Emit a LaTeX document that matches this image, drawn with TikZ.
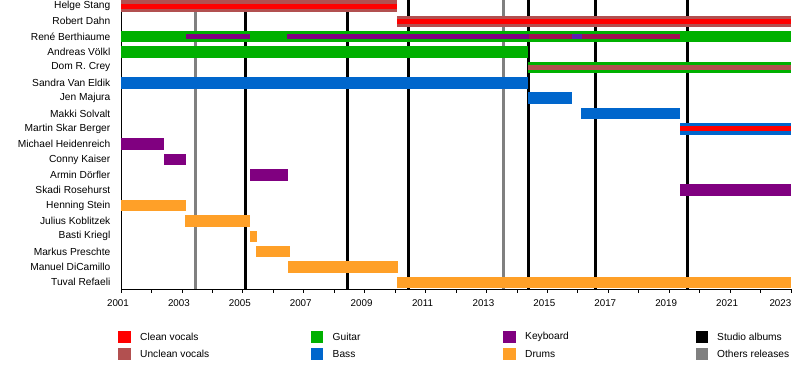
\documentclass[tikz,border=0pt]{standalone}
\usepackage{fontspec}
\setmainfont{Liberation Sans}
\definecolor{clean}{RGB}{255,0,0}
\definecolor{unclean}{RGB}{178,80,80}
\definecolor{guitar}{RGB}{0,176,0}
\definecolor{bass}{RGB}{0,102,204}
\definecolor{keyboard}{RGB}{128,0,128}
\definecolor{drums}{RGB}{255,160,40}
\definecolor{studio}{RGB}{0,0,0}
\definecolor{others}{RGB}{128,128,128}
\definecolor{mixkv}{RGB}{160,16,80}
\definecolor{mixbv}{RGB}{96,32,176}
\newcommand\tlbar[4]{\fill[#1] (#2,{6+15.35*#4-5.75}) rectangle (#3,{6+15.35*#4+5.75});}
\newcommand\tlstripe[4]{\fill[#1] (#2,{6+15.35*#4-2.5}) rectangle (#3,{6+15.35*#4+2.5});}
\tikzset{
  namelab/.style={anchor=east,inner sep=0pt,font=\fontsize{10.2}{12}\selectfont},
  yearlab/.style={anchor=center,inner sep=0pt,font=\fontsize{9.8}{12}\selectfont},
  leglab/.style={anchor=west,inner sep=0pt,font=\fontsize{10.2}{12}\selectfont},
  studioline/.style={draw=studio,line width=2.8pt},
  otherline/.style={draw=others,line width=2.8pt},
  axisline/.style={draw=black,line width=0.8pt},
}
\begin{document}
\begin{tikzpicture}[x=1pt,y=-1pt]
\useasboundingbox (0,0) rectangle (800,388);
% release lines
\foreach \xx in {195.7,503.3} \draw[otherline] (\xx,0) -- (\xx,289);
\foreach \xx in {245.7,347.7,408.3,528.3,595.7,687.3} \draw[studioline] (\xx,0) -- (\xx,289);
% axes
\draw[axisline] (121,0) -- (121,289) -- (791,289);
\foreach \k in {0,...,22} \draw[axisline] ({121+\k*30.4545},289) -- ({121+\k*30.4545},293);
\foreach \k in {0,2,...,20} {
  \pgfmathtruncatemacro\yy{2001+\k}
  \node[yearlab] (yr\k) at ({118+\k*30.4545},303) {\yy};
}
\node[yearlab,anchor=east] (yr22) at (791.5,303) {2023};
% names
\foreach \nm [count=\i from 0] in {Helge Stang,Robert Dahn,René Berthiaume,Andreas Völkl,Dom R. Crey,Sandra Van Eldik,Jen Majura,Makki Solvalt,Martin Skar Berger,Michael Heidenreich,Conny Kaiser,Armin Dörfler,Skadi Rosehurst,Henning Stein,Julius Koblitzek,Basti Kriegl,Markus Preschte,Manuel DiCamillo,Tuval Refaeli}
  \node[namelab] (name\i) at (110.5,{6+15.35*\i}) {\nm};
% bars
\tlbar{unclean}{121}{397}{0}
\tlstripe{clean}{121}{397}{0}
\tlbar{unclean}{397}{791}{1}
\tlstripe{clean}{397}{791}{1}
\tlbar{guitar}{121}{791}{2}
\tlstripe{keyboard}{186}{250}{2}
\tlstripe{keyboard}{287}{528.5}{2}
\tlstripe{mixkv}{528.5}{680}{2}
\tlstripe{mixbv}{572}{582}{2}
\tlbar{guitar}{121}{528}{3}
\tlbar{guitar}{528}{791}{4}
\tlstripe{unclean}{528}{791}{4}
\tlbar{bass}{121}{528}{5}
\tlbar{bass}{528}{572}{6}
\tlbar{bass}{581}{680}{7}
\tlbar{bass}{680}{791}{8}
\tlstripe{clean}{680}{791}{8}
\tlbar{keyboard}{121}{164}{9}
\tlbar{keyboard}{163.5}{186}{10}
\tlbar{keyboard}{249.5}{288}{11}
\tlbar{keyboard}{680}{791}{12}
\tlbar{drums}{121}{186}{13}
\tlbar{drums}{185}{250}{14}
\tlbar{drums}{249.5}{257}{15}
\tlbar{drums}{256}{290}{16}
\tlbar{drums}{287.5}{398}{17}
\tlbar{drums}{397}{791}{18}
% legend
\fill[clean] (118,330.5) rectangle (130.5,343);
\node[leglab] (lg1) at (140,337) {Clean vocals};
\fill[unclean] (118,347.5) rectangle (130.5,360);
\node[leglab] (lg2) at (140,354) {Unclean vocals};
\fill[guitar] (310.5,330.5) rectangle (323,343);
\node[leglab] (lg3) at (332.5,337) {Guitar};
\fill[bass] (310.5,347.5) rectangle (323,360);
\node[leglab] (lg4) at (332.5,354) {Bass};
\fill[keyboard] (503,330.5) rectangle (515.5,343);
\node[leglab] (lg5) at (525,337) {Keyboard};
\fill[drums] (503,347.5) rectangle (515.5,360);
\node[leglab] (lg6) at (525,354) {Drums};
\fill[studio] (695.5,330.5) rectangle (708,343);
\node[leglab] (lg7) at (717,337) {Studio albums};
\fill[others] (695.5,347.5) rectangle (708,360);
\node[leglab] (lg8) at (717,354) {Others releases};
\end{tikzpicture}
\end{document}
